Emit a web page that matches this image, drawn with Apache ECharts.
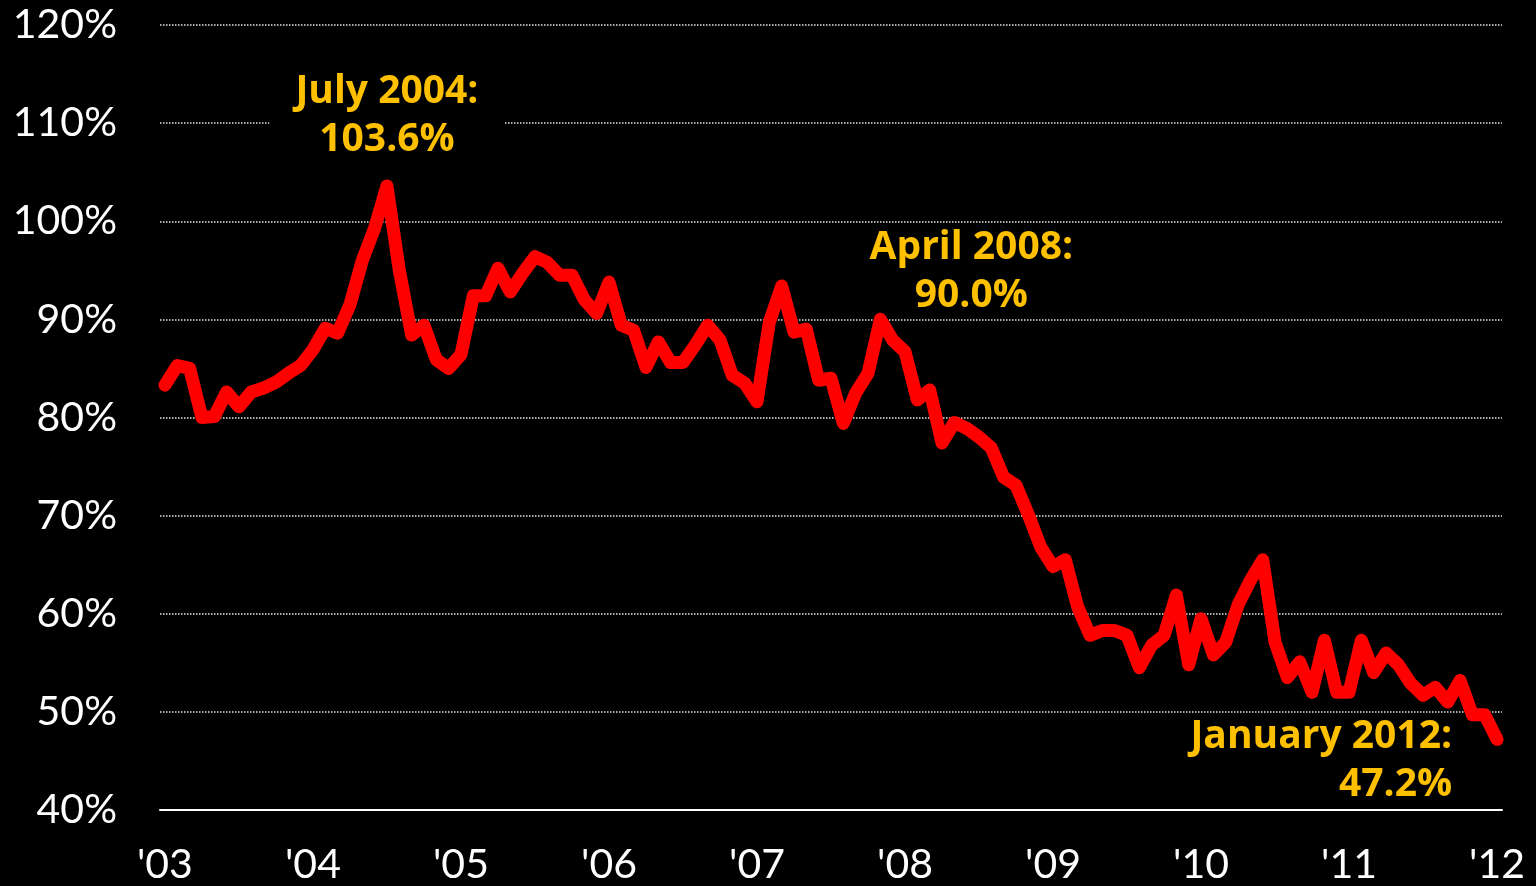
<!DOCTYPE html>
<html>
<head>
<meta charset="utf-8">
<style>
  html, body { margin: 0; padding: 0; background: #000; }
  #chart { width: 1536px; height: 886px; }
</style>
<script src="https://cdn.jsdelivr.net/npm/echarts@6/dist/echarts.min.js"></script>
</head>
<body>
<div id="chart"></div>
<script>
// Monthly share, January 2003 through January 2012 (percent)
const months = 109;
const values = [
  83.3, 85.3, 85.0, 80.0, 80.1, 82.6, 81.1, 82.6, 83.0, 83.6, 84.5, 85.3,
  86.9, 89.1, 88.6, 91.5, 96.0, 99.3, 103.6, 95.0, 88.4, 89.4, 85.9, 85.0,
  86.4, 92.4, 92.4, 95.2, 92.8, 94.7, 96.4, 95.8, 94.5, 94.5, 92.0, 90.6,
  93.8, 89.4, 88.9, 85.1, 87.7, 85.6, 85.6, 87.4, 89.4, 87.9, 84.3, 83.5,
  81.6, 89.7, 93.4, 88.7, 89.0, 83.8, 84.0, 79.4, 82.5, 84.5, 90.0, 87.9,
  86.7, 81.8, 82.8, 77.4, 79.5, 78.9, 78.0, 76.9, 73.9, 73.1, 70.1, 66.8,
  64.8, 65.5, 60.7, 57.8, 58.3, 58.3, 57.8, 54.5, 56.8, 57.8, 61.9, 54.8,
  59.5, 55.8, 57.1, 60.9, 63.4, 65.5, 57.1, 53.5, 55.1, 52.0, 57.3, 52.0,
  52.0, 57.3, 54.0, 56.0, 54.8, 52.9, 51.7, 52.5, 51.0, 53.2, 49.7, 49.7,
  47.2
];

// Year tick labels, one every 12 months
const yearTicks = [0, 12, 24, 36, 48, 60, 72, 84, 96, 108];
const yearLabels = ["'03", "'04", "'05", "'06", "'07", "'08", "'09", "'10", "'11", "'12"];

// Called-out months: index into values and caption
const calloutIndex = [18, 58, 108];
const calloutNames = ['July 2004:', 'April 2008:', 'January 2012:'];

const GOLD = '#FFC000';
const calloutStyles = [
  { offset: [0, -70], align: 'center', backgroundColor: '#000', padding: [2, 26, 2, 26] },
  { offset: [91, -47], align: 'center' },
  { offset: [-45, 22], align: 'right' }
];

const chart = echarts.init(document.getElementById('chart'), null, { renderer: 'canvas' });

chart.setOption({
  backgroundColor: '#000',
  animation: false,
  grid: { left: 160, right: 34, top: 25, bottom: 76, containLabel: false },
  xAxis: {
    type: 'value',
    min: -0.4,
    max: months - 1 + 0.4,
    splitLine: { show: false },
    axisLine: { show: true, lineStyle: { color: '#fff', width: 2 } },
    axisTick: { show: false },
    axisLabel: {
      customValues: yearTicks,
      formatter: v => yearLabels[yearTicks.indexOf(Math.round(v))] || '',
      color: '#fff',
      fontFamily: 'Lato, "Open Sans", sans-serif',
      fontSize: 41,
      margin: 34
    }
  },
  yAxis: {
    type: 'value',
    min: 40,
    max: 120,
    interval: 10,
    axisLine: { show: false },
    axisTick: { show: false },
    splitLine: {
      show: true,
      lineStyle: { color: '#e8e8e8', width: 1.5, type: [1.5, 1.5] }
    },
    axisLabel: {
      formatter: '{value}%',
      color: '#fff',
      fontFamily: 'Lato, "Open Sans", sans-serif',
      fontSize: 41,
      margin: 43
    }
  },
  series: [{
    type: 'line',
    data: values.map((v, i) => [i, v]),
    showSymbol: false,
    symbol: 'none',
    lineStyle: { color: '#ff0000', width: 13, join: 'round', cap: 'round' },
    z: 3,
    markPoint: {
      symbol: 'circle',
      symbolSize: 0,
      silent: true,
      z: 5,
      data: calloutIndex.map((idx, k) => ({
        coord: [idx, values[idx]],
        name: calloutNames[k],
        value: values[idx],
        label: Object.assign({
          show: true,
          position: 'inside',
          formatter: p => p.name + '\n' + p.value.toFixed(1) + '%',
          color: GOLD,
          fontFamily: '"Open Sans", Lato, sans-serif',
          fontWeight: 'bold',
          fontSize: 39,
          lineHeight: 48
        }, calloutStyles[k])
      }))
    }
  }]
});
</script>
</body>
</html>
